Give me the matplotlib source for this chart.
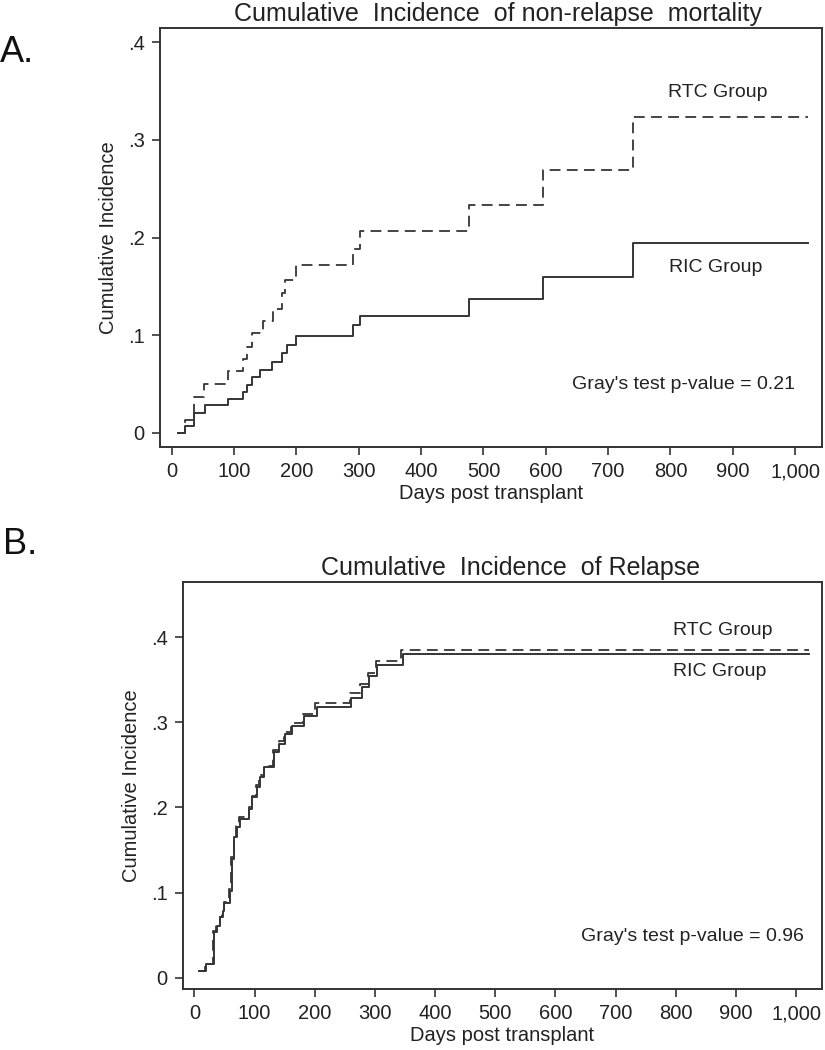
import matplotlib
matplotlib.use("Agg")
from matplotlib import pyplot as plt

plt.rcParams['font.family'] = ['Liberation Sans', 'DejaVu Sans']

# panel A: non-relapse mortality
a_ric_days = [10, 21, 35, 53, 90, 115, 120, 129, 142, 160, 176, 185, 199, 290, 302, 477, 595, 740, 1020]
a_ric_ci = [0, 0.007, 0.02, 0.028, 0.035, 0.042, 0.049, 0.057, 0.064, 0.073, 0.082, 0.09, 0.099, 0.11, 0.12,
            0.137, 0.160, 0.194, 0.194]
a_rtc_days = [10, 21, 35, 51, 90, 115, 120, 128, 147, 163, 177, 182, 200, 291, 302, 477, 595, 740, 1020]
a_rtc_ci = [0, 0.013, 0.037, 0.05, 0.063, 0.076, 0.088, 0.102, 0.114, 0.127, 0.143, 0.156, 0.172, 0.188, 0.207,
            0.233, 0.269, 0.323, 0.323]

# panel B: relapse
b_ric_days = [7, 19, 32, 37, 43, 47, 50, 59, 62, 66, 70, 75, 91, 96, 104, 109, 116, 132, 141, 150, 163, 182,
              203, 261, 278, 290, 303, 346, 1021]
b_ric_ci = [0.0086, 0.0164, 0.054, 0.061, 0.071, 0.079, 0.088, 0.1025, 0.14, 0.165, 0.177, 0.187, 0.198, 0.212,
            0.224, 0.236, 0.247, 0.265, 0.275, 0.286, 0.296, 0.307, 0.318, 0.328, 0.341, 0.354, 0.367, 0.380, 0.380]
b_rtc_days = [7, 18, 31, 36, 42, 46, 49, 58, 61, 65, 69, 74, 90, 95, 103, 108, 115, 131, 140, 149, 161, 180,
              201, 259, 276, 288, 301, 344, 1021]
b_rtc_ci = [0.0086, 0.0164, 0.055, 0.062, 0.072, 0.080, 0.089, 0.104, 0.142, 0.167, 0.179, 0.189, 0.200, 0.214,
            0.226, 0.238, 0.249, 0.268, 0.278, 0.289, 0.299, 0.310, 0.322, 0.334, 0.345, 0.358, 0.372, 0.385, 0.385]

xticks = [0, 100, 200, 300, 400, 500, 600, 700, 800, 900, 1000]
xticklabels = ['0', '100', '200', '300', '400', '500', '600', '700', '800', '900', '1,000']
yticks = [0, 0.1, 0.2, 0.3, 0.4]
yticklabels = ['0', '.1', '.2', '.3', '.4']

line_col = '#353535'
fig = plt.figure(figsize=(8.25, 10.5), dpi=100)
axA = fig.add_axes([0.1939, 0.5743, 0.8024, 0.399])
axB = fig.add_axes([0.2218, 0.0581, 0.7745, 0.3876])


def style(ax, ylim):
    ax.set_xlim(-19, 1043)
    ax.set_ylim(*ylim)
    ax.set_xticks(xticks)
    ax.set_xticklabels(xticklabels)
    ax.set_yticks(yticks)
    ax.set_yticklabels(yticklabels)
    ax.tick_params(labelsize=14.5, length=6, width=1.2, pad=5, color='#333333', labelcolor='#222222')
    for s in ax.spines.values():
        s.set_linewidth(1.4)
        s.set_color('#333333')
    ax.set_xlabel('Days post transplant', fontsize=14.5, color='#222222', labelpad=2)
    ax.set_ylabel('Cumulative Incidence', fontsize=14.5, color='#222222', labelpad=7)


axA.step(a_ric_days, a_ric_ci, where='post', color=line_col, lw=1.4)
axA.step(a_rtc_days, a_rtc_ci, where='post', color=line_col, lw=1.3, linestyle=(0, (6, 3.5)))
style(axA, (-0.0145, 0.4145))
axA.set_title('Cumulative  Incidence  of non-relapse  mortality', fontsize=18, color='#222222', pad=5, x=0.51)
axA.text(876, 0.349, 'RTC Group', fontsize=14, ha='center', va='center', color='#222222')
axA.text(873, 0.169, 'RIC Group', fontsize=14, ha='center', va='center', color='#222222')
axA.text(821, 0.049, "Gray's test p-value = 0.21", fontsize=14, ha='center', va='center', color='#222222')

axB.step(b_ric_days, b_ric_ci, where='post', color=line_col, lw=1.4)
axB.step(b_rtc_days, b_rtc_ci, where='post', color=line_col, lw=1.3, linestyle=(0, (6, 3.5)))
style(axB, (-0.0129, 0.4645))
axB.set_title('Cumulative  Incidence  of Relapse', fontsize=18, color='#222222', pad=5, x=0.512)
axB.text(878, 0.408, 'RTC Group', fontsize=14, ha='center', va='center', color='#222222')
axB.text(873, 0.359, 'RIC Group', fontsize=14, ha='center', va='center', color='#222222')
axB.text(828, 0.0485, "Gray's test p-value = 0.96", fontsize=14, ha='center', va='center', color='#222222')

fig.text(0.0, 1 - 52 / 1050, 'A.', fontsize=26, ha='left', va='center', color='#111111')
fig.text(0.004, 1 - 545 / 1050, 'B.', fontsize=26, ha='left', va='center', color='#111111')

fig.savefig('out.png', dpi=100)
